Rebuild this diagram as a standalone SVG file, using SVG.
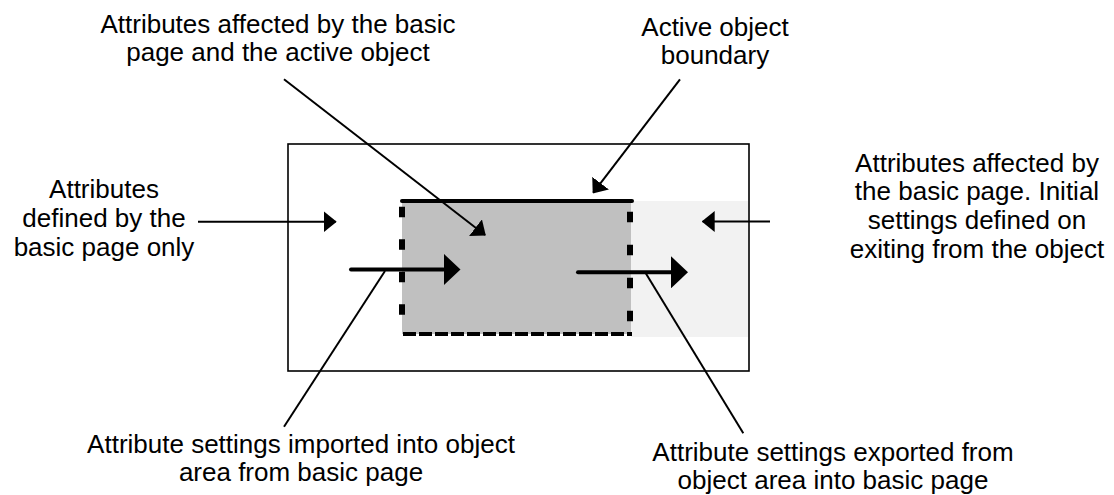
<svg xmlns="http://www.w3.org/2000/svg" width="1114" height="495" viewBox="0 0 1114 495">
  <style>
    .lbl { font-family: "Liberation Sans", Arial, sans-serif; font-size: 26px; fill: #000; text-anchor: middle; }
    .thin { stroke: #000; stroke-width: 2; fill: none; }
    .thick { stroke: #000; stroke-width: 4; fill: none; stroke-linecap: round; }
  </style>
  <defs>
    <marker id="ah" viewBox="0 0 13 21" refX="12" refY="10.5" markerWidth="13" markerHeight="21" markerUnits="userSpaceOnUse" orient="auto">
      <path d="M0,0 L13,10.5 L0,21 z" fill="#000"/>
    </marker>
    <marker id="ahBig" viewBox="0 0 17 32" refX="0" refY="16" markerWidth="17" markerHeight="32" markerUnits="userSpaceOnUse" orient="auto">
      <path d="M0,0 L17,16 L0,32 z" fill="#000"/>
    </marker>
  </defs>

  <g id="page">
    <rect x="288" y="144" width="461" height="227" fill="#fff" stroke="#000" stroke-width="1.6"/>
  </g>
  <g id="exit-area">
    <rect x="631" y="201" width="117" height="136" fill="#f2f2f2"/>
  </g>
  <g id="object">
    <rect x="402" y="201" width="229" height="133" fill="#c0c0c0"/>
    <line x1="402" y1="201" x2="632" y2="201" class="thick"/>
    <line x1="403" y1="334" x2="632" y2="334" stroke="#000" stroke-width="4" stroke-dasharray="13 3"/>
    <line x1="402" y1="206.7" x2="402" y2="334" stroke="#000" stroke-width="6" stroke-dasharray="10.5 22"/>
    <line x1="630" y1="211.7" x2="630" y2="334" stroke="#000" stroke-width="6" stroke-dasharray="10.5 22.5"/>
  </g>

  <g id="connectors">
    <line x1="351" y1="269.5" x2="443.5" y2="269.5" class="thick" marker-end="url(#ahBig)"/>
    <line x1="578" y1="272.3" x2="671" y2="272.3" class="thick" marker-end="url(#ahBig)"/>
    <line x1="198" y1="221.7" x2="335.7" y2="221.7" class="thin" marker-end="url(#ah)"/>
    <line x1="770" y1="221.5" x2="702.7" y2="221.5" class="thin" marker-end="url(#ah)"/>
    <line x1="284" y1="79.3" x2="485" y2="235" class="thin" marker-end="url(#ah)"/>
    <line x1="680" y1="79.3" x2="593.3" y2="192.7" class="thin" marker-end="url(#ah)"/>
    <line x1="385" y1="271" x2="284" y2="426.7" class="thin"/>
    <line x1="645" y1="272" x2="743.3" y2="433.3" class="thin"/>
  </g>

  <g id="label-both">
    <text class="lbl" x="278" y="33">Attributes affected by the basic</text>
    <text class="lbl" x="278" y="61">page and the active object</text>
  </g>
  <g id="label-boundary">
    <text class="lbl" x="715" y="35.5">Active object</text>
    <text class="lbl" x="715" y="64">boundary</text>
  </g>
  <g id="label-basic-only">
    <text class="lbl" x="104" y="198">Attributes</text>
    <text class="lbl" x="104" y="227">defined by the</text>
    <text class="lbl" x="104" y="256">basic page only</text>
  </g>
  <g id="label-exit">
    <text class="lbl" x="977" y="172">Attributes affected by</text>
    <text class="lbl" x="977" y="200">the basic page. Initial</text>
    <text class="lbl" x="977" y="229">settings defined on</text>
    <text class="lbl" x="977" y="258">exiting from the object</text>
  </g>
  <g id="label-import">
    <text class="lbl" x="301" y="453">Attribute settings imported into object</text>
    <text class="lbl" x="301" y="481">area from basic page</text>
  </g>
  <g id="label-export">
    <text class="lbl" x="833" y="461">Attribute settings exported from</text>
    <text class="lbl" x="833" y="489">object area into basic page</text>
  </g>
</svg>
